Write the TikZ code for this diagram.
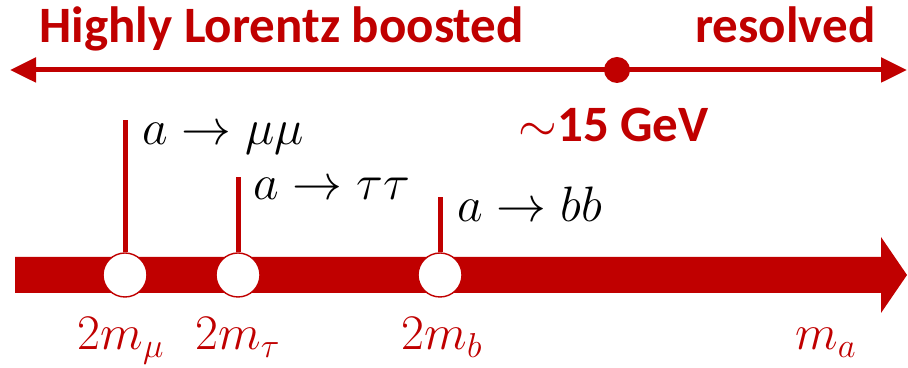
\documentclass[tikz,border=0pt]{standalone}
\usepackage{amsmath,amssymb}
\usepackage{fontspec}
\usepackage{xcolor}
\usetikzlibrary{arrows.meta}
\newfontfamily\headfont{Carlito}
\definecolor{escalarojo}{RGB}{192,0,0}

\begin{document}
\begin{tikzpicture}[x=0.5pt, y=0.5pt, >=Triangle, line width=2.5pt,
    hole/.style={circle, draw=escalarojo, line width=0.7pt, fill=white, minimum size=22pt, inner sep=0pt},
    rango/.style={escalarojo, font=\headfont\bfseries\fontsize{25.5}{28}\selectfont},
    masa/.style={escalarojo, font=\fontsize{26}{28}\selectfont},
    canal/.style={black, font=\fontsize{24}{26}\selectfont, anchor=base west, inner sep=0pt}]
    \useasboundingbox (0,0) rectangle (908,368);
    % regime axis
    \node[rango, anchor=base west, inner sep=0pt] (boost) at (37,325) {Highly Lorentz boosted};
    \node[rango, anchor=base east, inner sep=0pt] (resol) at (878,325) {resolved};
    \coordinate (izq) at (10,298);
    \coordinate (der) at (907,298);
    \draw[escalarojo, {Triangle[length=13pt,width=12pt]}-{Triangle[length=13pt,width=12pt]}] (izq) -- (der);
    \node[circle, fill=escalarojo, minimum size=13pt, inner sep=0pt] (corte) at (617,298) {};
    \node[rango, anchor=base west, inner sep=0pt] (gev) at (516,226) {$\sim$15 GeV};
    % mass axis
    \fill[escalarojo] (15,111) -- (881,111) -- (881,131) -- (907,93) -- (881,55) -- (881,75) -- (15,75) -- cycle;
    \node[hole] (mmu) at (125,93) {};
    \node[hole] (mtau) at (238,93) {};
    \node[hole] (mb) at (440,93) {};
    \coordinate (tmu) at (125,248);
    \coordinate (ttau) at (238,191);
    \coordinate (tb) at (440,171);
    \draw[escalarojo] (mmu.north) -- (tmu);
    \draw[escalarojo] (mtau.north) -- (ttau);
    \draw[escalarojo] (mb.north) -- (tb);
    \node[canal] (dmu) at (140,223) {$a\rightarrow\mu\mu$};
    \node[canal] (dtau) at (251,168) {$a\rightarrow\tau\tau$};
    \node[canal] (db) at (455,146) {$a\rightarrow bb$};
    \node[masa, anchor=base, inner sep=0pt] (lmu) at (121,18) {$2m_\mu$};
    \node[masa, anchor=base, inner sep=0pt] (ltau) at (238,18) {$2m_\tau$};
    \node[masa, anchor=base, inner sep=0pt] (lb) at (442,18) {$2m_b$};
    \node[masa, anchor=base, inner sep=0pt] (la) at (826,18) {$m_a$};
\end{tikzpicture}
\end{document}
